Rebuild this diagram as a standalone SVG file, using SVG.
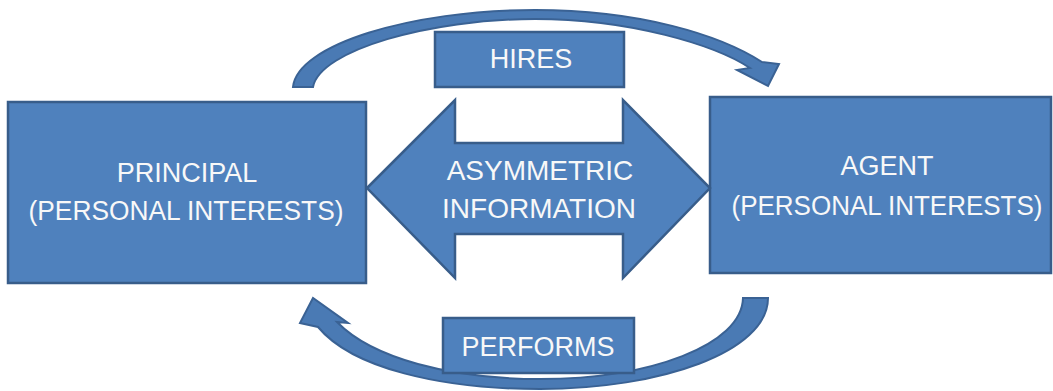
<svg xmlns="http://www.w3.org/2000/svg" width="1053" height="391" viewBox="0 0 1053 391">
<style>
.shape{fill:#4F81BD;stroke:#385D8A;stroke-width:2.5;stroke-linejoin:miter}
.arc{fill:#4A7AB4;stroke:#3A6294;stroke-width:2;stroke-linejoin:miter}
.t{font-family:"Liberation Sans",Arial,sans-serif;font-size:27px;fill:#F8F8F8;text-anchor:middle}
</style>
<rect width="1053" height="391" fill="#FFFFFF"/>
<g id="connectors">
<path id="hires-arrow" class="arc" d="M293,87 C297,45 410,10 535,10 C640,10 720,35 762,62 L779,64 L768,86 L737,70 L750,68 C715,45 630,19 535,19 C430,19 320,50 313,87 Z"/>
<path id="performs-arrow" class="arc" d="M768,298 C768,352 660,389 540,389 C440,389 352,368 318,327 L300,323 L313,298 L348,323 L337,322 C372,358 450,379 540,379 C650,379 742,345 743,298 Z"/>
</g>
<g id="principal">
<rect class="shape" x="8" y="102" width="358" height="181"/>
<text class="t" x="187" y="182">PRINCIPAL</text>
<text class="t" x="186" y="220" textLength="315" lengthAdjust="spacingAndGlyphs">(PERSONAL INTERESTS)</text>
</g>
<g id="agent">
<rect class="shape" x="710" y="97" width="341" height="176"/>
<text class="t" x="887" y="175">AGENT</text>
<text class="t" x="887" y="215" textLength="311" lengthAdjust="spacingAndGlyphs">(PERSONAL INTERESTS)</text>
</g>
<g id="asymmetric">
<path class="shape" d="M367,188 L455,100 L455,143 L623,143 L623,100 L710,188 L623,278 L623,234 L455,234 L455,278 Z"/>
<text class="t" x="540" y="180" style="font-size:28px">ASYMMETRIC</text>
<text class="t" x="539" y="218" style="font-size:28px">INFORMATION</text>
</g>
<g id="hires">
<rect class="shape" x="435" y="32" width="189" height="55"/>
<text class="t" x="531" y="68">HIRES</text>
</g>
<g id="performs">
<rect class="shape" x="443" y="318" width="191" height="55"/>
<text class="t" x="538" y="356">PERFORMS</text>
</g>
</svg>
